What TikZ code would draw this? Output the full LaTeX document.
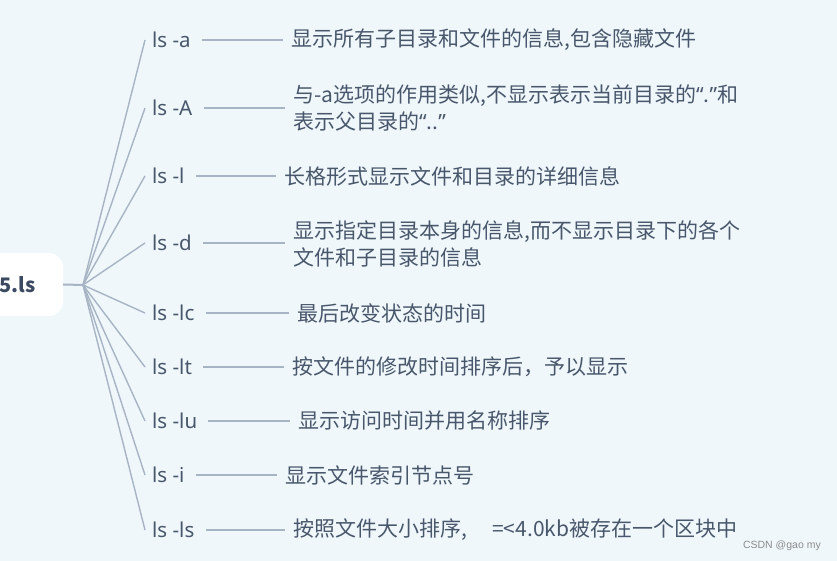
\documentclass[tikz,border=0pt]{standalone}
\usepackage{fontspec}
\setmainfont{Noto Sans CJK SC}
\newfontfamily\latinfont{Noto Sans}
\newfontfamily\wmfont{Liberation Sans}
\definecolor{bgc}{HTML}{F0F7FB}
\definecolor{linec}{HTML}{A7B4C3}
\definecolor{txtc}{HTML}{48576B}
\definecolor{rootc}{HTML}{3B4A60}
\definecolor{wmc}{HTML}{8C8C8C}
\newcommand{\myLq}{{\latinfont “}}
\newcommand{\myRq}{{\latinfont ”}}
\begin{document}
\begin{tikzpicture}[x=1pt,y=-1pt,
  rootbox/.style={draw=none,fill=white,rounded corners=14pt,minimum width=103pt,minimum height=63pt,inner sep=0pt},
  roottext/.style={font=\fontsize{20}{24}\selectfont\bfseries,text=rootc,inner sep=0pt,anchor=west},
  optlabel/.style={font=\latinfont\fontsize{20.5}{27}\selectfont,text=txtc,inner sep=0pt,anchor=west},
  desc/.style={font=\fontsize{21}{27}\selectfont,text=txtc,inner sep=0pt,anchor=west,align=left},
  fanline/.style={draw=linec,line width=1.4pt},
  conn/.style={draw=linec,line width=1.3pt},
  rootline/.style={draw=linec,line width=2pt}]
\useasboundingbox (0,0) rectangle (837,561);
\fill[bgc] (0,0) rectangle (837,561);
\node[rootbox] (rootbox) at (11.5,284.5) {};
\node[roottext] (root) at (-1,285) {5.ls};
\coordinate (hub) at (83,285);
\draw[rootline] (rootbox.east) -- (hub);
% option labels
\node[optlabel] (la) at (152,40) {ls -a};
\node[optlabel] (lA) at (152,108) {ls -A};
\node[optlabel] (ll) at (152,176) {ls -l};
\node[optlabel] (ld) at (152,243) {ls -d};
\node[optlabel] (llc) at (152,313) {ls -lc};
\node[optlabel] (llt) at (152,367) {ls -lt};
\node[optlabel] (llu) at (152,421) {ls -lu};
\node[optlabel] (li) at (152,475) {ls -i};
\node[optlabel] (lls) at (152,530) {ls -ls};
% descriptions
\node[desc] (da) at (291,40) {显示所有子目录和文件的信息,包含隐藏文件};
\node[desc] (dA) at (293,108.5) {与-a选项的作用类似,不显示表示当前目录的\myLq.\myRq 和\\表示父目录的\myLq..\myRq};
\node[desc] (dl) at (284,176) {长格形式显示文件和目录的详细信息};
\node[desc] (dd) at (293,243.5) {显示指定目录本身的信息,而不显示目录下的各个\\文件和子目录的信息};
\node[desc] (dlc) at (297,313) {最后改变状态的时间};
\node[desc] (dlt) at (292,367) {按文件的修改时间排序后，予以显示};
\node[desc] (dlu) at (298,421) {显示访问时间并用名称排序};
\node[desc] (di) at (285,475) {显示文件索引节点号};
\node[desc] (dls) at (293,530) {按照文件大小排序,\hspace{1.2em}=<4.0kb被存在一个区块中};
% fan lines
\foreach \n in {la,lA,ll,ld,llc,llt,llu,li,lls}{
  \draw[fanline] (hub) -- ([xshift=-7pt]\n.west);
}
% connectors
\foreach \a/\b in {la/da,lA/dA,ll/dl,ld/dd,llc/dlc,llt/dlt,llu/dlu,li/di,lls/dls}{
  \draw[conn] ([xshift=11pt]\a.east) -- ([xshift=-8pt]\a.east -| \b.west);
}
\node[font=\wmfont\fontsize{10.5}{12}\selectfont,text=wmc,inner sep=0pt,anchor=east] (wm) at (821,546) {CSDN @gao my};
\end{tikzpicture}
\end{document}
